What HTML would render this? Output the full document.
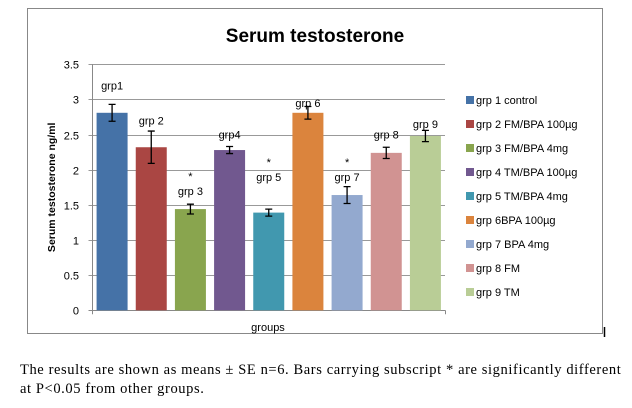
<!DOCTYPE html>
<html><head><meta charset="utf-8"><style>
body{margin:0;width:632px;height:408px;background:#fff;overflow:hidden;position:relative;font-family:"Liberation Sans",sans-serif}
#cap{position:absolute;left:20px;top:361px;font-family:"Liberation Serif",serif;font-size:14.5px;letter-spacing:0.6px;line-height:19px;color:#000;white-space:nowrap}
</style></head><body>
<svg id="chart" width="632" height="408" style="position:absolute;left:0;top:0"></svg>
<div id="cap">The results are shown as means ± SE n=6. Bars carrying subscript * are significantly different<br>at P&lt;0.05 from other groups.</div>
<script>
const categories=["grp1","grp 2","grp 3","grp4","grp 5","grp 6","grp 7","grp 8","grp 9"];
const legendNames=["grp 1 control","grp 2 FM/BPA 100µg","grp 3 FM/BPA 4mg","grp 4 TM/BPA 100µg","grp 5 TM/BPA 4mg","grp 6BPA 100µg","grp 7 BPA 4mg","grp 8 FM","grp 9 TM"];
const values=[2.81,2.32,1.44,2.28,1.39,2.81,1.64,2.24,2.48];
const errors=[0.12,0.23,0.07,0.05,0.05,0.09,0.12,0.08,0.08];
const stars=[false,false,true,false,true,false,true,false,false];
const labelY=[3.2,2.7,1.7,2.5,1.9,2.95,1.9,2.5,2.65];
const yTicks=[0,0.5,1,1.5,2,2.5,3,3.5];
const colors=["#4572a7","#aa4643","#89a54e","#71588f","#4198af","#db843d","#93a9cf","#d19392","#b9cd96"];
const svg=document.getElementById('chart');const NS="http://www.w3.org/2000/svg";
function mk(t,a,txt){const e=document.createElementNS(NS,t);for(const k in a)e.setAttribute(k,a[k]);if(txt!==undefined)e.textContent=txt;svg.appendChild(e);return e;}
const x0=92.5,x1=445,y0=310.3,yTop=64.3,yMax=3.5;
const ys=v=>y0-(v/yMax)*(y0-yTop);
const cw=(x1-x0)/categories.length,bw=31;
const xc=i=>x0+cw*(i+0.5);
let e=mk('rect',{x:27.5,y:8.5,width:575,height:325,fill:'none',stroke:'#888'});

e=mk('text',{x:315,y:42,'text-anchor':'middle','font-size':19,'font-weight':'bold'},'Serum testosterone');

yTicks.forEach(t=>{const y=Math.round(ys(t))+0.5;
 e=mk('line',{x1:x0-4,x2:x1,y1:y,y2:y,stroke:t===0?'#888':'#999'});
 
 e=mk('text',{x:79,y:y+4,'text-anchor':'end','font-size':11},String(t));
 });
e=mk('line',{x1:x0,x2:x0,y1:yTop,y2:y0+4,stroke:'#888'});

e=mk('line',{x1:x1+0.5,x2:x1+0.5,y1:y0,y2:y0+4,stroke:'#888'});

e=mk('text',{x:0,y:0,transform:`translate(55,${(y0+yTop)/2}) rotate(-90)`,'text-anchor':'middle','font-size':10.5,'font-weight':'bold'},'Serum testosterone ng/ml');

e=mk('text',{x:268,y:331,'text-anchor':'middle','font-size':11},'groups');

values.forEach((v,i)=>{const cx=xc(i);
 e=mk('rect',{x:cx-bw/2,y:ys(v),width:bw,height:y0-ys(v),fill:colors[i]});
 
 const ya=ys(v+errors[i]),yb=ys(v-errors[i]);
 e=mk('path',{d:`M${cx} ${ya}V${yb}M${cx-3.5} ${ya}H${cx+3.5}M${cx-3.5} ${yb}H${cx+3.5}`,stroke:'#000','stroke-width':1.3,fill:'none'});
 
 e=mk('text',{x:cx,y:ys(labelY[i])+4,'text-anchor':'middle','font-size':11},categories[i]);
 
 if(stars[i]){e=mk('text',{x:cx,y:ys(labelY[i])-11,'text-anchor':'middle','font-size':11},'*');
 }
});
legendNames.forEach((n,i)=>{const y=100+i*24;
 e=mk('rect',{x:466,y:y-4,width:8,height:8,fill:colors[i]});
 
 e=mk('text',{x:476,y:y+4,'font-size':11},n);
 });
e=mk('line',{x1:604.5,x2:604.5,y1:327,y2:337,stroke:'#000','stroke-width':1.5});

</script>
</body></html>
